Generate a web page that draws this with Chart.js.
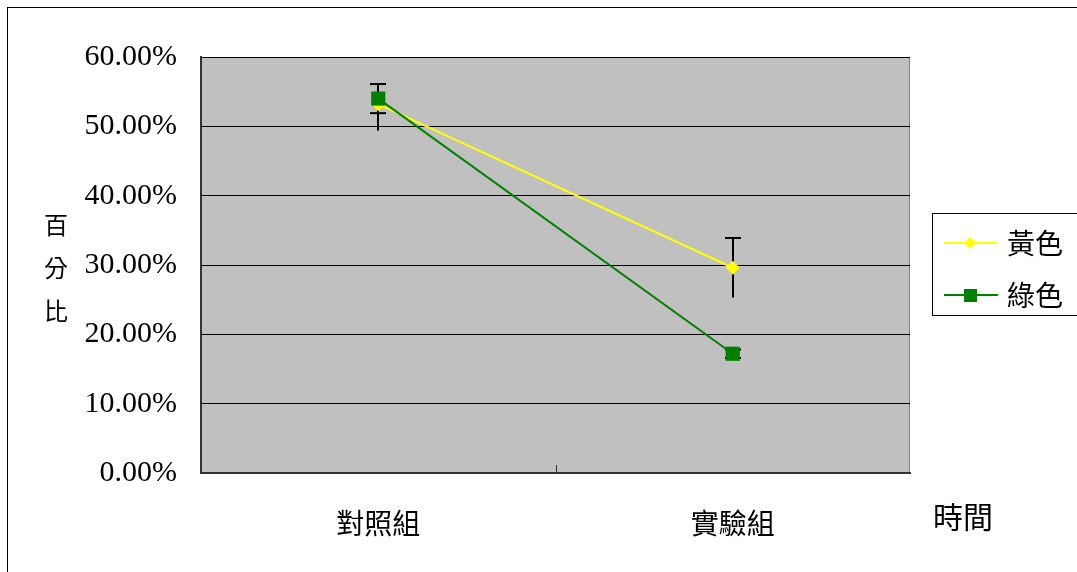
<!DOCTYPE html>
<html>
<head>
<meta charset="utf-8">
<script src="https://cdn.jsdelivr.net/npm/chart.js@4.4.0/dist/chart.umd.min.js"></script>
<style>
  body { margin: 0; background: #fff; }
  #wrap { width: 1077px; height: 572px; }
</style>
</head>
<body>
<div id="wrap"><canvas id="chart" width="1077" height="572"></canvas></div>
<script>
const categories = ["對照組", "實驗組"];
const seriesNames = ["黃色", "綠色"];
const yellowValues = [53.2, 29.6];
const greenValues = [54.0, 17.2];
const yellowErrPlus = [0, 4.3];
const yellowErrMinus = [3.8, 4.3];
const greenErrPlus = [2.1, 0.6];
const greenErrMinus = [2.1, 0.6];
const yTicks = [0, 10, 20, 30, 40, 50, 60];
const yTitle = ["百", "分", "比"];
const xTitle = "時間";

const cjk = '"Noto Sans CJK TC", "Noto Sans CJK SC", sans-serif';

// grey plot area, outer frame, axis titles
const framePlugin = {
    id: "frame",
    beforeDraw(chart) {
        const ctx = chart.ctx;
        const a = chart.chartArea;
        ctx.save();
        ctx.fillStyle = "#fff";
        ctx.fillRect(0, 0, chart.width, chart.height);
        ctx.strokeStyle = "#000";
        ctx.lineWidth = 1;
        ctx.strokeRect(7.5, 7.5, 1300, 800);
        ctx.fillStyle = "#c0c0c0";
        ctx.fillRect(a.left, a.top, a.right - a.left, a.bottom - a.top);
        ctx.strokeStyle = "#808080";
        ctx.beginPath();
        ctx.moveTo(a.left, a.top + 0.5);
        ctx.lineTo(a.right - 0.5, a.top + 0.5);
        ctx.lineTo(a.right - 0.5, a.bottom);
        ctx.stroke();
        ctx.restore();
    },
    afterDraw(chart) {
        const ctx = chart.ctx;
        const a = chart.chartArea;
        const x = chart.scales.x;
        ctx.save();
        // middle category tick
        const mid = Math.round((x.getPixelForValue(0) + x.getPixelForValue(1)) / 2) + 0.5;
        ctx.strokeStyle = "#333";
        ctx.beginPath();
        ctx.moveTo(mid, a.bottom);
        ctx.lineTo(mid, a.bottom - 8);
        ctx.stroke();

        ctx.fillStyle = "#000";
        ctx.textAlign = "center";
        ctx.textBaseline = "middle";
        ctx.font = "24px " + cjk;
        yTitle.forEach((c, i) => ctx.fillText(c, 56, 225 + i * 43));
        ctx.font = "30px " + cjk;
        ctx.textAlign = "left";
        ctx.fillText(xTitle, 933, 517);

        // legend
        ctx.strokeStyle = "#000";
        ctx.lineWidth = 1;
        ctx.strokeRect(932.5, 213.5, 200, 102);
        chart.data.datasets.forEach((ds, i) => {
            const y = 243 + i * 52;
            ctx.strokeStyle = ds.borderColor;
            ctx.lineWidth = 2;
            ctx.beginPath();
            ctx.moveTo(944, y);
            ctx.lineTo(998, y);
            ctx.stroke();
            ctx.fillStyle = ds.backgroundColor;
            if (ds.pointStyle === "rectRot") {
                ctx.beginPath();
                ctx.moveTo(970, y - 6);
                ctx.lineTo(976, y);
                ctx.lineTo(970, y + 6);
                ctx.lineTo(964, y);
                ctx.closePath();
                ctx.fill();
            } else {
                ctx.fillRect(964, y - 6, 13, 13);
            }
            ctx.fillStyle = "#000";
            ctx.font = "28px " + cjk;
            ctx.textAlign = "left";
            ctx.fillText(ds.label, 1007, y);
        });
        ctx.restore();
    }
};

// error bars drawn beneath the markers
const errorBarPlugin = {
    id: "errorBars",
    beforeDatasetsDraw(chart) {
        const ctx = chart.ctx;
        const y = chart.scales.y;
        ctx.save();
        ctx.strokeStyle = "#000";
        ctx.lineWidth = 2;
        chart.data.datasets.forEach((ds, i) => {
            const meta = chart.getDatasetMeta(i);
            meta.data.forEach((pt, j) => {
                const v = ds.data[j];
                const top = y.getPixelForValue(v + ds.errPlus[j]);
                const bot = y.getPixelForValue(v - ds.errMinus[j]);
                const px = Math.round(pt.x);
                ctx.beginPath();
                ctx.moveTo(px, top);
                ctx.lineTo(px, bot);
                ctx.stroke();
                if (ds.errPlus[j] > 0 && ds.capPlus) {
                    ctx.beginPath();
                    ctx.moveTo(px - 8, top);
                    ctx.lineTo(px + 8, top);
                    ctx.stroke();
                }
                if (ds.errMinus[j] > 0 && ds.capMinus) {
                    ctx.beginPath();
                    ctx.moveTo(px - 8, bot);
                    ctx.lineTo(px + 8, bot);
                    ctx.stroke();
                }
            });
        });
        ctx.restore();
    }
};

const data = {
    labels: categories,
    datasets: [
        {
            label: seriesNames[0],
            data: yellowValues,
            errPlus: yellowErrPlus,
            errMinus: yellowErrMinus,
            capPlus: true,
            capMinus: false,
            borderColor: "#ffff00",
            backgroundColor: "#ffff00",
            borderWidth: 2,
            pointStyle: "rectRot",
            pointRadius: 7,
            pointBorderWidth: 0,
            order: 2
        },
        {
            label: seriesNames[1],
            data: greenValues,
            errPlus: greenErrPlus,
            errMinus: greenErrMinus,
            capPlus: true,
            capMinus: true,
            borderColor: "#008000",
            backgroundColor: "#008000",
            borderWidth: 2,
            pointStyle: "rect",
            pointRadius: 10,
            pointBorderWidth: 0,
            order: 1
        }
    ]
};

const config = {
    type: "line",
    data: data,
    options: {
        responsive: false,
        animation: false,
        layout: { padding: { top: 57, right: 167, left: 0, bottom: 0 } },
        plugins: {
            legend: { display: false },
            tooltip: { enabled: false }
        },
        scales: {
            x: {
                offset: true,
                grid: { display: false, drawTicks: false },
                border: { display: true, color: "#333", width: 2 },
                ticks: {
                    color: "#000",
                    padding: 34,
                    font: { family: cjk, size: 28 }
                },
                afterFit(scale) { scale.height = 99; }
            },
            y: {
                min: 0,
                max: 60,
                grid: { color: "#000", lineWidth: 1, drawTicks: false },
                border: { display: true, color: "#333", width: 2 },
                afterBuildTicks(scale) { scale.ticks = yTicks.map(v => ({ value: v })); },
                ticks: {
                    color: "#000",
                    padding: 24,
                    font: { family: '"Liberation Serif", serif', size: 30 },
                    callback: (v) => v.toFixed(2) + "%"
                },
                afterFit(scale) { scale.width = 201; }
            }
        }
    },
    plugins: [framePlugin, errorBarPlugin]
};

new Chart(document.getElementById("chart"), config);
</script>
</body>
</html>
